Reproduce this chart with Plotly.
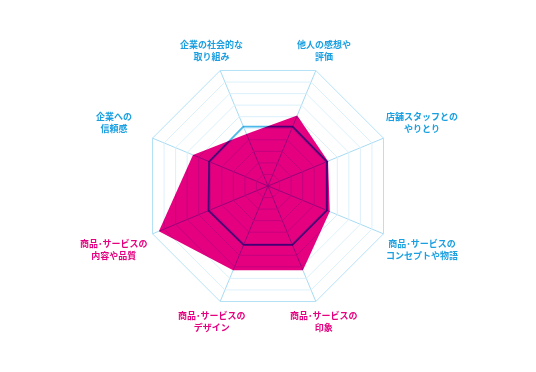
import math
import plotly.graph_objects as go

categories = [
    "他人の感想や<br>評価",
    "店舗スタッフとの<br>やりとり",
    "商品･サービスの<br>コンセプトや物語",
    "商品･サービスの<br>印象",
    "商品･サービスの<br>デザイン",
    "商品･サービスの<br>内容や品質",
    "企業への<br>信頼感",
    "企業の社会的な<br>取り組み",
]
highlight = [False, False, False, True, True, True, False, False]
pink_values = [6.1, 5.2, 5.35, 7.3, 7.3, 9.45, 6.5, 4.5]
line_values = [5.15, 5.1, 5.1, 5.1, 5.1, 5.15, 5.1, 5.15]

BLUE = "#1a9fe0"
PINK = "#e4007f"
W, H = 536, 372
CX, CY, R = 268, 186, 125
ROTATION = 67.5

fig = go.Figure()
fig.add_trace(go.Scatterpolar(
    r=line_values + line_values[:1],
    theta=categories + categories[:1],
    mode="lines",
    line=dict(color="#4db8ea", width=1.8),
    hoverinfo="skip",
))
fig.add_trace(go.Scatterpolar(
    r=pink_values + pink_values[:1],
    theta=categories + categories[:1],
    mode="lines",
    fill="toself",
    fillcolor=PINK,
    line=dict(color=PINK, width=0),
    hoverinfo="skip",
))

# category labels placed around the octagon
annotations = []
n = len(categories)
for i, (cat, hl) in enumerate(zip(categories, highlight)):
    ang = math.radians(90 - ROTATION + i * 360 / n)  # clockwise from north
    s, c = math.sin(ang), math.cos(ang)
    rl = R * (1.144 + 0.226 * s * s)
    px, py = CX + rl * s, CY - rl * c
    annotations.append(dict(
        x=px / W, y=1 - py / H, xref="paper", yref="paper",
        text=cat, showarrow=False, xanchor="center", yanchor="middle",
        align="center",
        font=dict(family="Noto Sans CJK JP", size=9, color=PINK if hl else BLUE,
                  weight="bold"),
    ))

fig.update_layout(
    width=W, height=H,
    margin=dict(l=0, r=0, t=0, b=0),
    paper_bgcolor="white",
    showlegend=False,
    annotations=annotations,
    font=dict(family="Noto Sans CJK JP", size=9, color=BLUE),
    polar=dict(
        domain=dict(x=[(CX - R) / W, (CX + R) / W],
                    y=[(H - CY - R) / H, (H - CY + R) / H]),
        bgcolor="rgba(0,0,0,0)",
        gridshape="linear",
        radialaxis=dict(range=[0, 10], dtick=1, showticklabels=False,
                        showline=False, ticks="", gridcolor="#dcf0fb", gridwidth=1),
        angularaxis=dict(direction="clockwise", rotation=ROTATION,
                         showticklabels=False, gridwidth=1,
                         ticks="", gridcolor="#a8dbf4", linecolor="#b5e1f6", showline=True),
    ),
)

post = """
document.body.style.margin = '0';
var gd = document.getElementById('{plot_id}');
function blend(){
  var tr = gd.querySelectorAll('.scatterlayer .trace');
  if (tr.length > 1) {
    var el = tr[1];
    while (el && el.tagName && el.tagName.toLowerCase() !== 'svg') {
      el.style.mixBlendMode = 'multiply';
      el = el.parentNode;
    }
  }
}
blend();
gd.on('plotly_afterplot', blend);
"""

fig.write_html("out.html", post_script=post, config={"displayModeBar": False})
